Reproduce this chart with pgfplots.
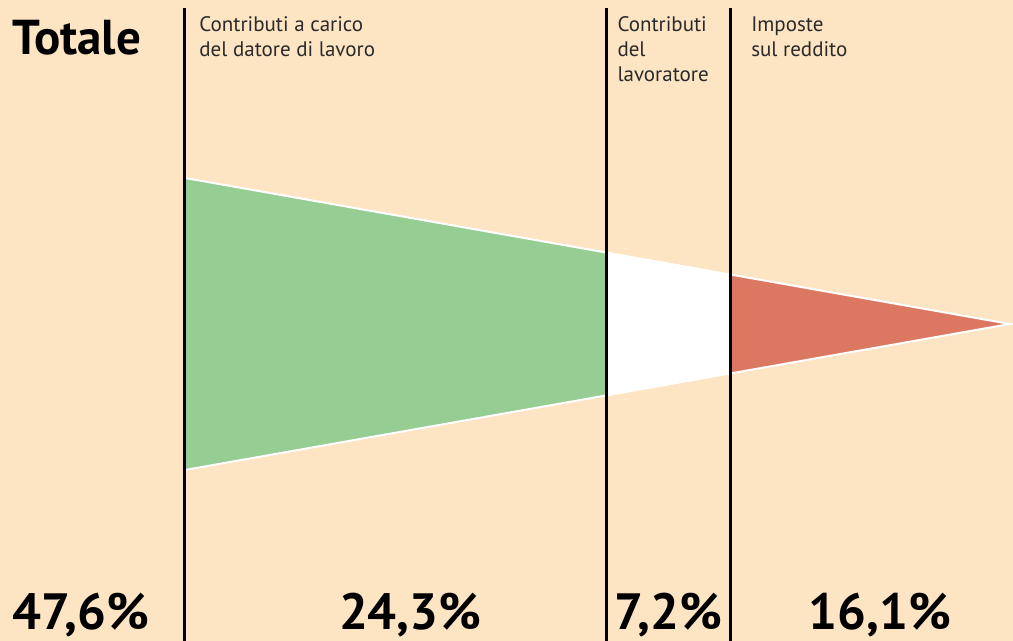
\documentclass[border=0pt]{standalone}
\usepackage{pgfplots}
\pgfplotsset{compat=1.18}
\usepackage{fontspec}
\setmainfont{PT Sans}
\definecolor{bg}{HTML}{FDE4C3}
\definecolor{gr}{HTML}{95CD93}
\definecolor{rd}{HTML}{DC7861}
\definecolor{tx}{HTML}{2A2A2A}
\begin{document}
\begin{tikzpicture}
\useasboundingbox (0,0) rectangle (506.5pt,320.5pt);
\clip (0,0) rectangle (506.5pt,320.5pt);
\fill[bg] (0,0) rectangle (506.5pt,320.5pt);
\begin{axis}[at={(0,0)},anchor=south west,width=506.5pt,height=320.5pt,scale only axis,hide axis,
  xmin=-10.675,xmax=47.78,ymin=-317,ymax=324,clip=false]
% segments: employer 24.3, employee 7.2, income tax 16.1 (total 47.6)
\addplot[fill=gr,draw=none] coordinates {(0,146) (24.3,71.47) (24.3,-71.47) (0,-146)} -- cycle;
\addplot[fill=white,draw=none] coordinates {(24.3,71.47) (31.5,49.38) (31.5,-49.38) (24.3,-71.47)} -- cycle;
\addplot[fill=rd,draw=none] coordinates {(31.5,49.38) (47.6,0) (31.5,-49.38)} -- cycle;
\addplot[white,line width=1pt] coordinates {(0,146) (47.6,0) (0,-146)};
\addplot[black,line width=1.5pt] coordinates {(0,316) (0,-330)};
\addplot[black,line width=1.5pt] coordinates {(24.3,316) (24.3,-330)};
\addplot[black,line width=1.5pt] coordinates {(31.5,316) (31.5,-330)};
\node[anchor=base west,inner sep=0,font=\bfseries\fontsize{24.5}{24.5}\selectfont] at (axis cs:-9.98,269) {Totale};
\begin{scope}[every node/.style={anchor=base west,inner sep=0,text=tx,font=\fontsize{10.5}{10.5}\selectfont}]
\node[xshift=7pt] at (axis cs:0,292) {Contributi a carico};
\node[xshift=7pt] at (axis cs:0,267) {del datore di lavoro};
\node[xshift=5.5pt] at (axis cs:24.3,292) {Contributi};
\node[xshift=5.5pt] at (axis cs:24.3,267) {del};
\node[xshift=5.5pt] at (axis cs:24.3,242) {lavoratore};
\node[xshift=10pt] at (axis cs:31.5,292) {Imposte};
\node[xshift=10pt] at (axis cs:31.5,267) {sul reddito};
\end{scope}
\begin{scope}[every node/.style={inner sep=0,font=\bfseries\fontsize{25.5}{25.5}\selectfont}]
\node[anchor=base west] at (axis cs:-9.98,-306) {47,6\%};
\node[anchor=base] at (axis cs:13.0,-306) {24,3\%};
\node[anchor=base] at (axis cs:27.9,-306) {7,2\%};
\node[anchor=base] at (axis cs:40.1,-306) {16,1\%};
\end{scope}
\end{axis}
\end{tikzpicture}
\end{document}
